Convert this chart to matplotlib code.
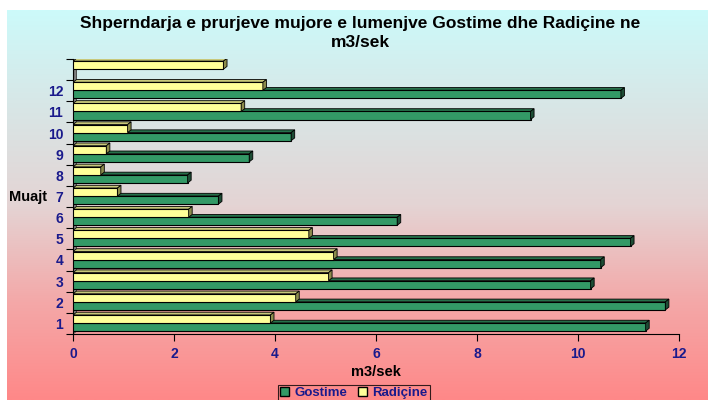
import numpy as np
import matplotlib
matplotlib.use("Agg")
import matplotlib.pyplot as plt
from matplotlib.patches import Polygon, Patch
from matplotlib.colors import LinearSegmentedColormap

plt.rcParams['font.family'] = ['Liberation Sans', 'DejaVu Sans']

months = ["1", "2", "3", "4", "5", "6", "7", "8", "9", "10", "11", "12", ""]
gostime = [11.34, 11.73, 10.25, 10.45, 11.04, 6.42, 2.88, 2.27, 3.49, 4.32, 9.06, 10.85, 0.0]
radicine = [3.91, 4.41, 5.06, 5.16, 4.67, 2.29, 0.88, 0.55, 0.66, 1.08, 3.33, 3.76, 2.98]
xticks = [0, 2, 4, 6, 8, 10, 12]

title = "Shperndarja e prurjeve mujore e lumenjve Gostime dhe Radiçine ne\nm3/sek"
navy = "#1A1A8C"

W, H = 708, 400
fig = plt.figure(figsize=(W / 100, H / 100), dpi=100)
fig.patch.set_facecolor("white")

# gradient background
bg = fig.add_axes([7 / W, 0, 1 - 7 / W, 390 / H])
cmap = LinearSegmentedColormap.from_list("bg", ["#CCFAFA", "#D8E6E6", "#E4D4D4", "#F4A8A8", "#FF8888"])
grad = np.linspace(0, 1, 256).reshape(-1, 1)
bg.imshow(grad, aspect="auto", cmap=cmap, extent=[0, 1, 0, 1], origin="upper")
bg.set_axis_off()

ax = fig.add_axes([73 / W, 1 - 334 / H, (679 - 73) / W, (334 - 59) / H])
ax.patch.set_alpha(0)

n = len(months)
y = np.arange(n)
h = 0.38
yc_r = y + 0.21
yc_g = y - 0.17
dx, dy = 0.07, 0.13

green, green_side, green_top = "#339966", "#1D4D35", "#26704A"
yel, yel_side, yel_top = "#FFFF99", "#8C8C4C", "#C8C87A"

# side wall
ax.add_patch(Polygon([(0, -0.5), (dx, -0.5 + dy), (dx, n - 0.5 + dy), (0, n - 0.5)],
                     closed=True, facecolor="#808080", edgecolor="#404040", lw=0.6, zorder=1))

def bar3d(vals, yc, face, side, top):
    ax.barh(yc, vals, height=h, color=face, edgecolor="black", linewidth=0.8, zorder=3)
    for v, c in zip(vals, yc):
        if v <= 0:
            continue
        t = c + h / 2
        ax.add_patch(Polygon([(0, t), (dx, t + dy), (v + dx, t + dy), (v, t)],
                             closed=True, facecolor=top, edgecolor="black", lw=0.6, zorder=2))
        ax.add_patch(Polygon([(v, c - h / 2), (v, t), (v + dx, t + dy), (v + dx, c - h / 2 + dy)],
                             closed=True, facecolor=side, edgecolor="black", lw=0.6, zorder=4))

bar3d(gostime, yc_g, green, green_side, green_top)
bar3d(radicine, yc_r, yel, yel_side, yel_top)

fs = 10
ax.set_xlim(0, 12)
ax.set_ylim(-0.5, n - 0.5)
ax.set_xticks(xticks)
ax.set_xticklabels([str(t) for t in xticks], color=navy, fontweight="bold", fontsize=fs)
ax.set_yticks(y)
ax.set_yticklabels(months, color=navy, fontweight="bold", fontsize=fs)
ax.set_yticks(np.arange(n + 1) - 0.5, minor=True)
ax.tick_params(axis="y", which="major", length=0, pad=7)
ax.tick_params(axis="y", which="minor", length=5, width=0.8, direction="out")
ax.tick_params(axis="x", which="major", length=5, width=0.8, direction="out", pad=4)
for s in ["top", "right"]:
    ax.spines[s].set_visible(False)
ax.spines["left"].set_linewidth(0.8)
ax.spines["bottom"].set_linewidth(0.8)

fig.text(376 / W, 1 - 372 / H, "m3/sek", fontweight="bold", fontsize=10.5, ha="center", va="center")
fig.text(9 / W, 1 - 197 / H, "Muajt", fontweight="bold", fontsize=10.5, va="center", ha="left")

fig.text(360 / W, 1 - 33 / H, title, fontweight="bold", fontsize=12.5, ha="center", va="center",
         linespacing=1.4)

leg = fig.legend(handles=[Patch(facecolor=green, edgecolor="black", label="Gostime"),
                          Patch(facecolor=yel, edgecolor="black", label="Radiçine")],
                 loc="upper center", bbox_to_anchor=(354 / W, 1 - 385 / H), ncol=2, frameon=True,
                 fancybox=False, fontsize=9.5, handlelength=0.7, handleheight=0.7,
                 handletextpad=0.4, columnspacing=0.8, borderpad=0.15, borderaxespad=0)
leg.get_frame().set_edgecolor("black")
leg.get_frame().set_facecolor("none")
leg.get_frame().set_linewidth(0.8)
for t in leg.get_texts():
    t.set_color(navy)
    t.set_fontweight("bold")

fig.savefig("out.png", dpi=100)
